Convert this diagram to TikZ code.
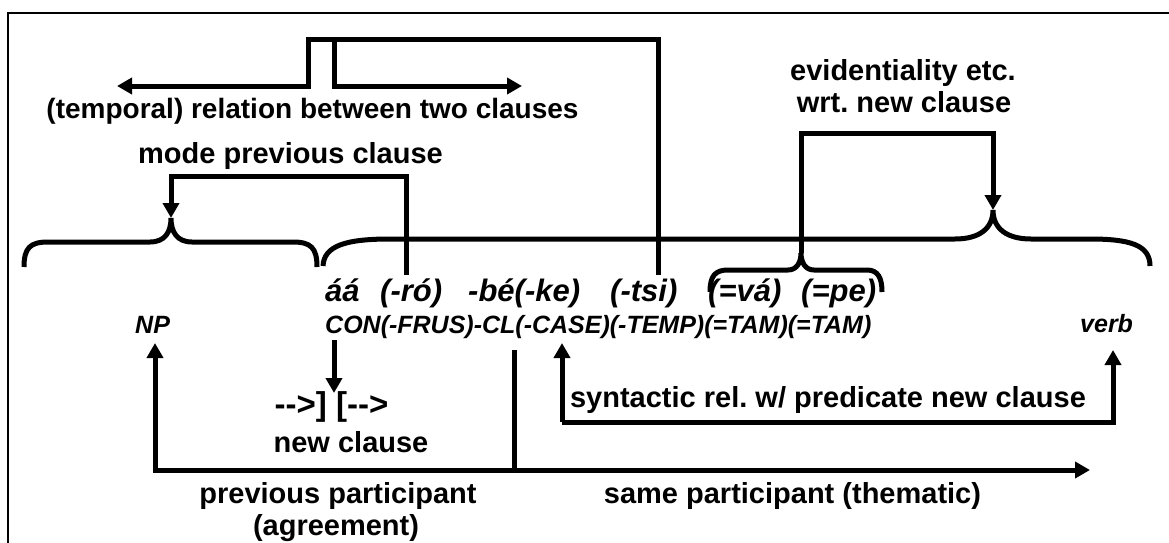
\documentclass[tikz,border=0pt]{standalone}
\usepackage{fontspec}
\setmainfont{Liberation Sans}[Ligatures=TeXOff]
\usetikzlibrary{arrows.meta}

\begin{document}
\frenchspacing
\begin{tikzpicture}[x=1pt,y=-1pt,
  frame/.style={line width=2.5pt},
  heavy/.style={line width=5pt},
  arr/.style={heavy,-{Triangle[length=15pt,width=16pt]}},
  lbl/.style={font=\fontsize{29}{31}\selectfont\bfseries, inner sep=0pt, anchor=base},
  morph/.style={font=\fontsize{31}{33}\selectfont\bfseries\itshape, inner sep=0pt, anchor=base west},
  gloss/.style={font=\fontsize{25}{27}\selectfont\bfseries\itshape, inner sep=0pt, anchor=base west},
]
\useasboundingbox (0,0) rectangle (1169,543);
\clip (0,0) rectangle (1169,543);
\draw[frame] (8,13) rectangle (1190,560);

% ---------- labels ----------
\node[lbl, font=\fontsize{28}{30}\selectfont\bfseries] (temporal) at (312.5,118) {(temporal) relation between two clauses};
\node[lbl] (mode) at (290.5,163) {mode previous clause};
\node[lbl] (evid1) at (903,80) {evidentiality etc.};
\node[lbl] (evid2) at (904,112) {wrt. new clause};

% ---------- morphemes and glosses ----------
\node[morph] (aa)  at (325,301) {áá};
\node[morph] (ro)  at (380,301) {(-ró)};
\node[morph] (be)  at (468,301) {-bé(-ke)};
\node[morph] (tsi) at (610,301) {(-tsi)};
\node[morph] (va)  at (708,301) {(=vá)};
\node[morph] (pe)  at (801,301) {(=pe)};
\node[gloss] (gl)  at (325,333) {CON(-FRUS)-CL(-CASE)(-TEMP)(=TAM)(=TAM)};
\node[gloss] (np)  at (135,333) {NP};
\node[gloss] (verb) at (1080,332) {verb};

\node[lbl, font=\fontsize{33}{35}\selectfont\bfseries] (cut) at (331.5,415) {-->] [-->};
\node[lbl] (newcl) at (351,452) {new clause};
\node[lbl] (synt) at (828,407) {syntactic rel. w/ predicate new clause};
\node[lbl] (prev1) at (338,503) {previous participant};
\node[lbl] (prev2) at (336,535) {(agreement)};
\node[lbl] (same) at (792.5,503) {same participant (thematic)};

% ---------- braces ----------
\coordinate (lbtip) at (171,218);
\coordinate (bbtip) at (993,210);
\coordinate (sbtip) at (801,253);

\draw[heavy] (24,267) .. controls (24,248) and (30,242) .. (48,242) -- (150,242)
  .. controls (165,242) and (171,232) .. (lbtip)
  .. controls (171,232) and (177,242) .. (192,242) -- (293,242)
  .. controls (311,242) and (317,248) .. (317,267);

\draw[heavy] (323,266) .. controls (324,246) and (345,239) .. (390,239) -- (955,239)
  .. controls (980,239) and (993,228) .. (bbtip)
  .. controls (993,228) and (1006,239) .. (1031,239) -- (1090,239)
  .. controls (1130,239) and (1150,245) .. (1150,266);

\draw[heavy] (710,292) .. controls (710,276) and (715,270) .. (728,270) -- (788,270)
  .. controls (797,270) and (801,262) .. (sbtip)
  .. controls (801,262) and (805,270) .. (814,270) -- (867,270)
  .. controls (878,270) and (882,278) .. (882,292);

% ---------- brackets from above ----------
\coordinate (tsitop) at (658,275);
\coordinate (rotop) at (406,275);
\draw[arr] (tsitop) -- (658,40) -- (308,40) -- (308,86) -- (117,86);
\draw[arr] (334,40) -- (334,86) -- (522,86);
\draw[arr] (rotop) -- (406,176) -- (171,176) -- (lbtip);
\draw[arr] (sbtip) -- (801,133) -- (993,133) -- (bbtip);

% ---------- arrows below ----------
\coordinate (conbot) at (334,340);
\draw[arr] (conbot) -- (334,393);
\coordinate (clbot) at (514,350);
\coordinate (split) at (514,470);
\draw[arr] (clbot) -- (split) -- (155,470) -- (155,343);
\draw[arr] (split) -- (1090,470);
\draw[arr] (562,422) -- (562,343);
\draw[arr] (562,422) -- (1113,422) -- (1113,350);
\end{tikzpicture}
\end{document}
